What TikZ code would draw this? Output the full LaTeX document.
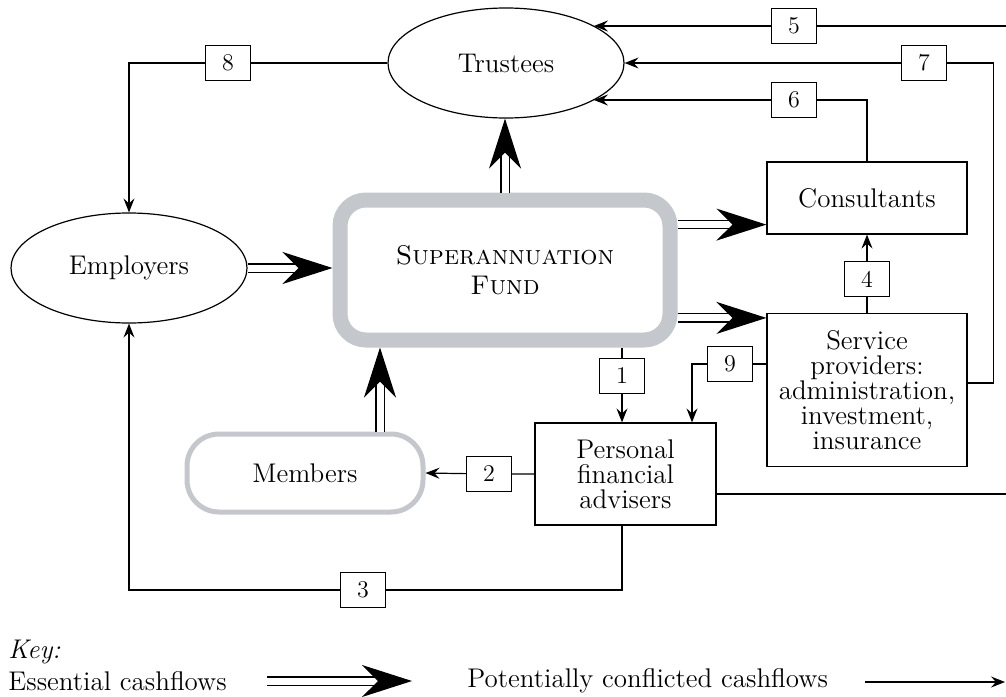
\documentclass[tikz,border=0pt]{standalone}
\usetikzlibrary{shapes.geometric,arrows.meta}
\definecolor{fundgray}{RGB}{196,199,204}

\tikzset{
  party/.style={draw, line width=0.6pt, align=center, inner sep=2pt},
  numbox/.style={draw, fill=white, line width=0.6pt, minimum width=22.5pt, minimum height=17.5pt, inner sep=0pt, font=\fontsize{12}{12}\selectfont},
  flow/.style={line width=0.6pt, -{Stealth[length=7pt,width=5.5pt,inset=2.5pt]}},
  conn/.style={line width=0.6pt},
  essential/.style={double, double distance=3.5pt, line width=0.6pt, shorten >=12pt},
  bighead/.style={line width=0.6pt, -{Stealth[length=25pt,width=16pt,inset=8pt]}},
}

\begin{document}
\begin{tikzpicture}[x=0.5pt, y=-0.5pt, font=\fontsize{13.5}{12.5}\selectfont]
\fill[white] (0,0) rectangle (1006,696);
\useasboundingbox (0,0) rectangle (1006,696);

\node[party, ellipse, minimum width=118pt, minimum height=55pt] (trustees) at (506,63) {Trustees};
\node[party, ellipse, minimum width=118pt, minimum height=55pt] (employers) at (129,268) {Employers};
\node[draw=fundgray, line width=7.5pt, rounded corners=13pt, minimum width=165pt, minimum height=70pt, align=center] (fund) at (505,270) {\textsc{Superannuation}\\[2.5pt]\textsc{Fund}};
\node[draw=fundgray, line width=2.5pt, rounded corners=16pt, minimum width=118pt, minimum height=39pt] (members) at (305,473) {Members};
\node[party, minimum width=100pt, minimum height=36pt] (consultants) at (867,198) {Consultants};
\node[party, minimum width=100pt, minimum height=76.5pt] (service) at (867,390) {Service\\providers:\\administration,\\investment,\\insurance};
\node[party, minimum width=90.5pt, minimum height=51pt] (pfa) at (625.5,474) {Personal\\financial\\advisers};

\node[numbox] (n1) at (622,376) {1};
\node[numbox] (n2) at (489,474) {2};
\node[numbox] (n3) at (363,590) {3};
\node[numbox] (n4) at (867,279) {4};
\node[numbox] (n5) at (794,26) {5};
\node[numbox] (n6) at (794,100) {6};
\node[numbox] (n7) at (924,63) {7};
\node[numbox] (n8) at (228,63) {8};
\node[numbox] (n9) at (730,364) {9};

\coordinate (e5) at (1006,26);
\coordinate (e10) at (1006,494);

\draw[flow] (fund.south -| n1) -- (n1) -- (pfa.north -| n1);
\draw[flow] (pfa.west) -- (n2) -- (members.east);
\draw[flow] (pfa.south -| n1) |- (n3) -| (employers.south);
\draw[flow] (service.north) -- (n4) -- (consultants.south);
\draw[flow] (e5) -- (e5 -| n5.east) (n5.west) -- (n5 -| trustees.23);
\draw[flow] (consultants.north) |- (n6) -- (n6 -| trustees.-23);
\draw[flow] ([yshift=3.5pt]service.east) -- ++(13pt,0) |- (n7) -- (trustees.east);
\draw[flow] (trustees.west) -- (n8) -| (employers.north);
\draw[flow] (service.west |- n9) -- (n9) -| ([xshift=33.25pt]pfa.north);
\draw[conn] ([yshift=-10pt]pfa.east) -- (e10);

\coordinate (t1) at (employers.east -| fund.west);
\coordinate (t2) at (fund.north |- trustees.south);
\coordinate (t3) at ([yshift=5pt]consultants.south west);
\coordinate (t4) at ([yshift=-2.5pt]service.north west);
\coordinate (m0) at ([xshift=37.5pt]members.north);
\coordinate (t5) at (m0 |- fund.south);

\draw[essential] (employers.east) -- (t1);
\draw[bighead] ([xshift=-14pt]t1) -- (t1);
\draw[essential] (fund.north) -- (t2);
\draw[bighead] ([yshift=-14pt]t2) -- (t2);
\draw[essential] (fund.east |- t3) -- (t3);
\draw[bighead] ([xshift=-14pt]t3) -- (t3);
\draw[essential] (fund.east |- t4) -- (t4);
\draw[bighead] ([xshift=-14pt]t4) -- (t4);
\draw[essential] (m0) -- (t5);
\draw[bighead] ([yshift=-14pt]t5) -- (t5);

\node[anchor=west, inner sep=0pt] (keylbl) at (8,652) {\textit{Key:}};
\node[anchor=west, inner sep=0pt] (esslbl) at (8,681) {Essential cashflows};
\node[anchor=west, inner sep=0pt] (conflbl) at (467,681) {Potentially conflicted cashflows};
\coordinate (k1) at (267,681);
\coordinate (k2) at (412,681);
\coordinate (k3) at (865,682);
\coordinate (k4) at (1005,682);
\draw[essential] (k1) -- (k2);
\draw[bighead] ([xshift=-14pt]k2) -- (k2);
\draw[flow] (k3) -- (k4);
\end{tikzpicture}
\end{document}
